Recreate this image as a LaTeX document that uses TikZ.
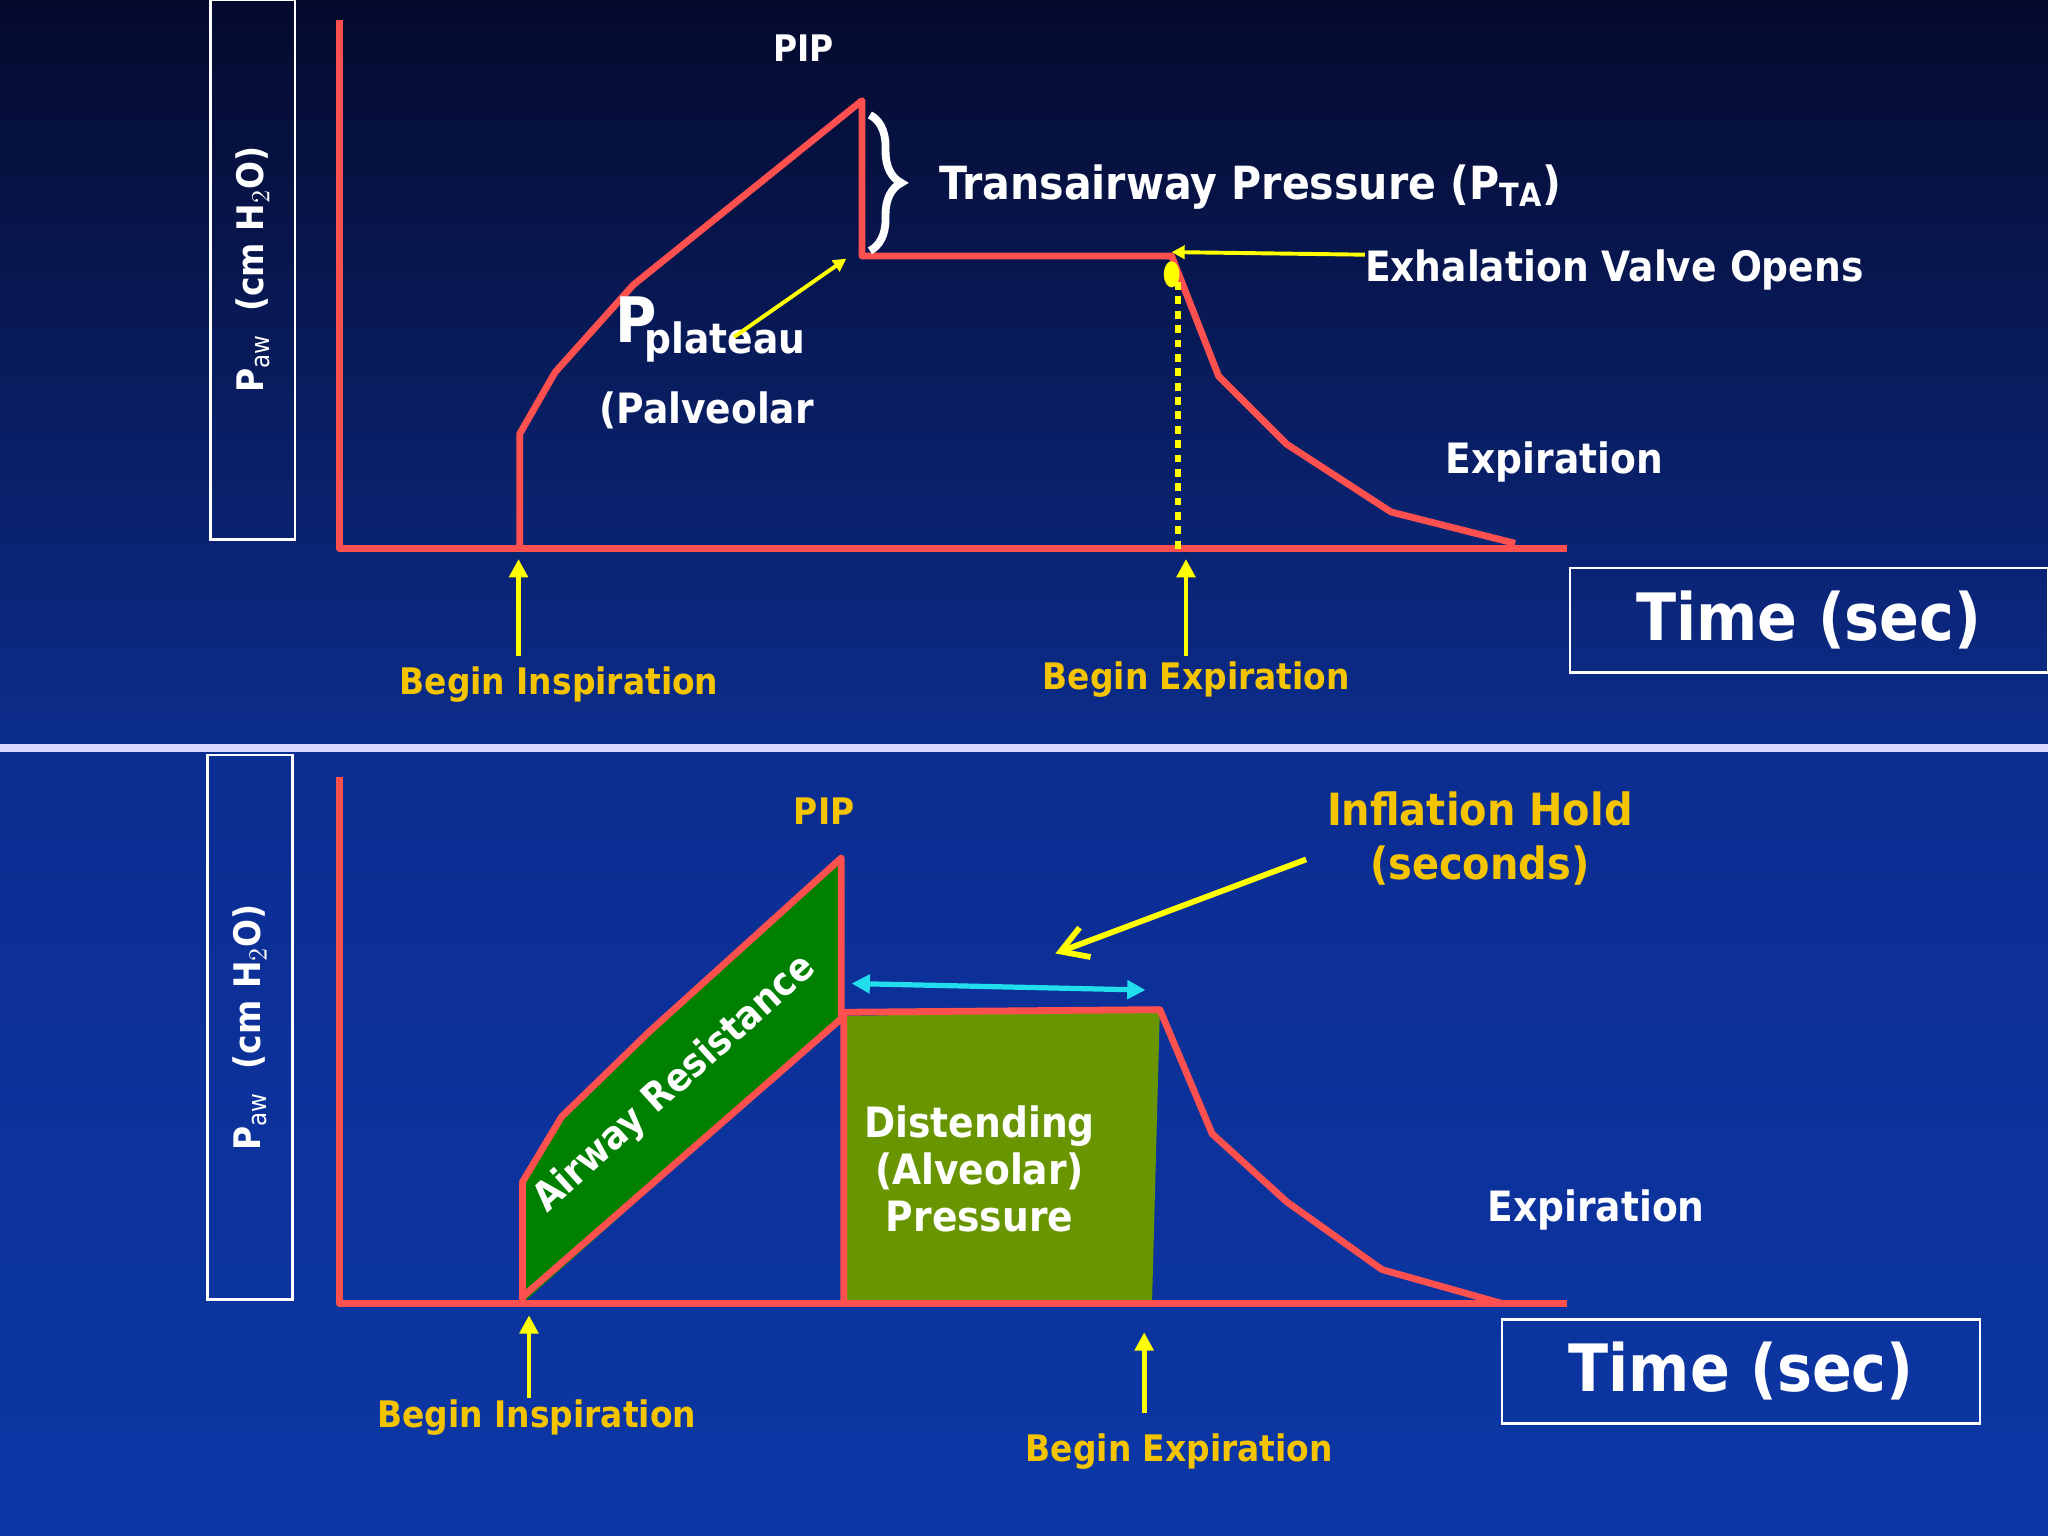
\documentclass[tikz,border=0pt]{standalone}
\usepackage{fontspec}
\setmainfont{DejaVu Sans Condensed}
\usetikzlibrary{decorations.pathreplacing,arrows.meta}
\definecolor{redl}{HTML}{FF5050}
\definecolor{gold}{HTML}{F5C400}
\definecolor{yel}{HTML}{FFFF00}
\definecolor{cyanl}{HTML}{22DDEE}
\definecolor{olive}{RGB}{105,150,0}
\definecolor{bg1}{RGB}{5,10,45}
\definecolor{bg2}{RGB}{12,45,140}
\definecolor{bg3}{RGB}{12,45,145}
\definecolor{bg4}{RGB}{12,55,165}
\tikzset{
 curve/.style={redl,line width=2.6pt,line join=round},
 lbl/.style={text=white,font=\bfseries\fontsize{16}{18}\selectfont},
 glbl/.style={text=gold,font=\bfseries\fontsize{14}{16}\selectfont},
 yarr/.style={yel,line width=1.8pt,-{Triangle[length=7pt,width=7pt]}},
 tbox/.style={draw=white,line width=1pt,text=white,font=\bfseries\fontsize{25}{28}\selectfont},
 abox/.style={draw=white,line width=1pt},
}
\begin{document}
\begin{tikzpicture}[x=0.5pt,y=-0.5pt]
\useasboundingbox (0,0) rectangle (1568,1176);
\shade[top color=bg1,bottom color=bg2] (0,0) rectangle (1568,572);
\shade[top color=bg3,bottom color=bg4] (0,572) rectangle (1568,1176);
\fill[white!85!blue] (0,570) rectangle (1568,576);
% ---------- top panel
\node[abox,minimum width=32.5pt,minimum height=206.5pt] (ya) at (193.5,206.5) {};
\node[rotate=90,lbl,font=\bfseries\fontsize{14}{16}\selectfont] (yal) at (ya.center) {P$_{\mathrm{aw}}$\ \ (cm H$_2$O)};
\coordinate (o1) at (260,420);
\draw[curve] (260,15) -- (o1) -- (1200,420);
\draw[curve] (398,420) -- (398,332) -- (425,285) -- (485,218) -- (660,77) -- (660,196) -- (897,196) -- (933,288) -- (985,340) -- (1065,392) -- (1160,416);
\coordinate (bt) at (666,192); \coordinate (bb) at (666,88);
\draw[white,line width=3pt,decorate,decoration={brace,amplitude=12pt}] (bb) -- (bt);
\node[lbl,anchor=west,font=\bfseries\fontsize{17.5}{20}\selectfont] (pta) at (712,143) {Transairway Pressure (P$_{\mathbf{TA}}$)};
\node[lbl,font=\bfseries\fontsize{14}{16}\selectfont] (pip1) at (615,37) {PIP};
\node[lbl,font=\bfseries\fontsize{24}{26}\selectfont] (P) at (487,245) {P};
\node[lbl] (plat) at (555,262) {plateau};
\node[lbl] (palv) at (541,314) {(Palveolar};
\coordinate (pa1) at (562,258); \coordinate (pa2) at (648,198);
\draw[yarr,line width=1.5pt,-{Triangle[length=5pt,width=5pt]}] (pa1) -- (pa2);
\node[lbl,anchor=west] (evo) at (1038,207) {Exhalation Valve Opens};
\coordinate (ev1) at (1045,195); \coordinate (ev2) at (897,193);
\draw[yarr,line width=1.5pt,-{Triangle[length=5pt,width=5pt]}] (ev1) -- (ev2);
\fill[yel] (897,210) ellipse (3pt and 5pt);
\draw[yel,line width=2.5pt,dash pattern=on 3pt off 2.5pt] (902,216) -- (902,420);
\node[lbl] (exp1) at (1190,354) {Expiration};
\coordinate (a1s) at (397,502); \coordinate (a1e) at (397,428);
\draw[yarr] (a1s) -- (a1e);
\coordinate (a2s) at (908,502); \coordinate (a2e) at (908,428);
\draw[yarr] (a2s) -- (a2e);
\node[glbl] (bi1) at (428,524) {Begin Inspiration};
\node[glbl] (be1) at (916,520) {Begin Expiration};
\node[tbox,minimum width=183pt,minimum height=40pt] (t1) at (1385,475) {Time (sec)};
% ---------- bottom panel
\node[abox,minimum width=32.5pt,minimum height=208.5pt] (yb) at (191.5,786.5) {};
\node[rotate=90,lbl,font=\bfseries\fontsize{14}{16}\selectfont] (ybl) at (yb.center) {P$_{\mathrm{aw}}$\ \ (cm H$_2$O)};
\fill[green!50!black] (400,998) -- (400,905) -- (430,855) -- (497,790) -- (644,657) -- (644,780) -- cycle;
\fill[olive] (646,778) -- (888,773) -- (882,998) -- (646,998) -- cycle;
\draw[curve] (260,595) -- (260,998) -- (1200,998);
\draw[curve] (400,998) -- (400,905) -- (430,855) -- (497,790) -- (644,657) -- (644,780) -- (400,993);
\draw[curve] (646,998) -- (646,775) -- (888,773) -- (928,868) -- (985,920) -- (1058,972) -- (1150,998);
\node[lbl,rotate=42,font=\bfseries\fontsize{15}{17}\selectfont] (ar) at (517,830) {Airway Resistance};
\node[lbl,align=center] (dist) at (750,895) {Distending\\(Alveolar)\\Pressure};
\coordinate (c1) at (652,753); \coordinate (c2) at (877,758);
\draw[cyanl,line width=2pt,{Triangle[length=7pt,width=7pt]}-{Triangle[length=7pt,width=7pt]}] (c1) -- (c2);
\coordinate (ih1) at (1000,658); \coordinate (ih2) at (808,730);
\draw[yarr,line width=2.2pt,-{Straight Barb[length=10pt,width=12pt]}] (ih1) -- (ih2);
\node[glbl,align=center,font=\bfseries\fontsize{17}{21}\selectfont] (ih) at (1133,642) {Inflation Hold\\(seconds)};
\node[glbl] (pip2) at (631,621) {PIP};
\node[lbl] (exp2) at (1222,926) {Expiration};
\coordinate (b1s) at (405,1070); \coordinate (b1e) at (405,1007);
\draw[yarr] (b1s) -- (b1e);
\coordinate (b2s) at (876,1082); \coordinate (b2e) at (876,1020);
\draw[yarr] (b2s) -- (b2e);
\node[glbl] (bi2) at (411,1085) {Begin Inspiration};
\node[glbl] (be2) at (903,1111) {Begin Expiration};
\node[tbox,minimum width=183pt,minimum height=40pt] (t2) at (1333,1050) {Time (sec)};
\end{tikzpicture}
\end{document}
